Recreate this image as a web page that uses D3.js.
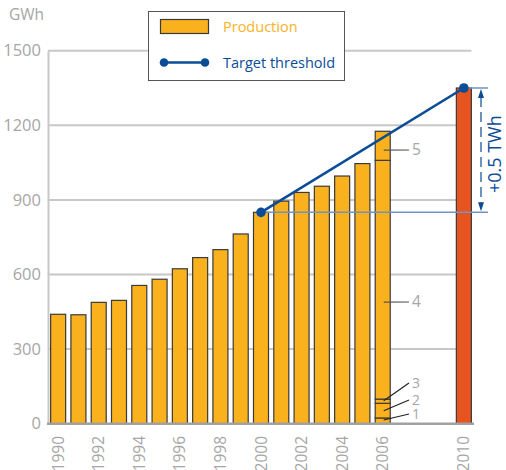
<!DOCTYPE html>
<html>
<head>
<meta charset="utf-8">
<script src="https://cdn.jsdelivr.net/npm/d3@7"></script>
<style>
  body { margin: 0; background: #fff; }
  text { font-family: "Open Sans", "Noto Sans", sans-serif; }
</style>
</head>
<body>
<div id="chart"></div>
<script>

// data (GWh)
var years        = [1990, 1991, 1992, 1993, 1994, 1995, 1996, 1997, 1998, 1999, 2000, 2001, 2002, 2003, 2004, 2005, 2006]
var production   = [440, 438, 488, 496, 556, 581, 623, 668, 700, 763, 850, 895, 930, 955, 996, 1046, 1176]
var seg2006      = [23, 59, 17, 960, 117]      // sources 1..5 stacked in 2006
var segLabels    = ["1", "2", "3", "4", "5"]
var targetYears  = [2000, 2010]
var targetValues = [850, 1350]
var yTicks       = [0, 300, 600, 900, 1200, 1500]
var xTickLabels  = [1990, 1992, 1994, 1996, 1998, 2000, 2002, 2004, 2006, 2010]

var allYears = d3.range(1990, 2011)

var W = 506, H = 470
var svg = d3.select("#chart").append("svg").attr("width", W).attr("height", H)

var x = d3.scaleBand().domain(allYears).range([48, 474]).paddingInner(0.26).paddingOuter(0.13)
var y = d3.scaleLinear().domain([0, 1500]).range([423.7, 50.7])

var grey = "#a6a6a6", blue = "#0b4c97", orange = "#f9b21e", red = "#e85420"

// gridlines
svg.append("g").selectAll("line").data(yTicks.slice(1)).enter().append("line")
  .attr("x1", 48).attr("x2", x(2010) + x.bandwidth())
  .attr("y1", function(d) { return y(d) }).attr("y2", function(d) { return y(d) })
  .attr("stroke", "#c8c8c8").attr("stroke-width", 2)

// y axis
var yAxis = svg.append("g").attr("transform", "translate(48,0)")
  .call(d3.axisLeft(y).tickValues(yTicks).tickFormat(d3.format("d")).tickSize(0).tickPadding(7))
yAxis.select(".domain").attr("stroke", "#c8c8c8").attr("stroke-width", 2)
yAxis.selectAll("text").attr("fill", grey).attr("font-size", 16.5).attr("font-family", "Open Sans")

svg.append("text").attr("x", 9).attr("y", 20).attr("fill", grey).attr("font-size", 15.5).text("GWh")

// production bars (2006 is stacked)
svg.append("g").selectAll("rect").data(years.slice(0, -1)).enter().append("rect")
  .attr("x", function(d) { return x(d) })
  .attr("width", x.bandwidth())
  .attr("y", function(d, i) { return y(production[i]) })
  .attr("height", function(d, i) { return y(0) - y(production[i]) })
  .attr("fill", orange).attr("stroke", "#3a3a3a").attr("stroke-width", 1.2)

var stack = []
var acc = 0
seg2006.forEach(function(v, i) { stack.push({lo: acc, hi: acc + v, label: segLabels[i]}); acc += v })

svg.append("g").selectAll("rect").data(stack).enter().append("rect")
  .attr("x", x(2006)).attr("width", x.bandwidth())
  .attr("y", function(d) { return y(d.hi) })
  .attr("height", function(d) { return y(d.lo) - y(d.hi) })
  .attr("fill", orange).attr("stroke", "#3a3a3a").attr("stroke-width", 1.2)

// 2010 target bar
svg.append("rect")
  .attr("x", x(2010)).attr("width", x.bandwidth())
  .attr("y", y(targetValues[1])).attr("height", y(0) - y(targetValues[1]))
  .attr("fill", red).attr("stroke", "#3a3a3a").attr("stroke-width", 1.2)

// baseline
svg.append("line").attr("x1", 47).attr("x2", 474).attr("y1", y(0)).attr("y2", y(0))
  .attr("stroke", "#a0a0a0").attr("stroke-width", 2.5)

// x labels
svg.append("g").selectAll("text").data(xTickLabels).enter().append("text")
  .attr("transform", function(d) { return "translate(" + (x(d) + x.bandwidth() / 2 + 5.5) + "," + 436 + ") rotate(-90)" })
  .attr("text-anchor", "end").attr("fill", grey).attr("font-size", 15.5)
  .text(function(d) { return d })

// segment labels and leaders for 2006
var leaderFrom = [15, 52, 92, 489, 1100]        // value where each leader leaves the bar
var labelY     = [414, 400, 383, 302, 150]      // pixel row of each label
var cx = x(2006) + x.bandwidth() / 2 + 1
stack.forEach(function(d, i) {
  svg.append("line")
    .attr("x1", cx).attr("y1", y(leaderFrom[i]))
    .attr("x2", 409).attr("y2", labelY[i])
    .attr("stroke", i < 3 ? "#222" : "#555").attr("stroke-width", 1.2)
  svg.append("text").attr("x", 412).attr("y", labelY[i]).attr("dy", "0.34em")
    .attr("fill", grey).attr("font-size", i < 3 ? 14 : 15.5).text(d.label)
})

// target threshold
var tx = function(d) { return x(d) + x.bandwidth() / 2 }
svg.append("line").attr("x1", tx(2000)).attr("x2", 488).attr("y1", y(targetValues[0])).attr("y2", y(targetValues[0]))
  .attr("stroke", "#6f93c4").attr("stroke-width", 1.5)
svg.append("line").attr("x1", tx(2010)).attr("x2", 488).attr("y1", y(targetValues[1])).attr("y2", y(targetValues[1]))
  .attr("stroke", "#6f93c4").attr("stroke-width", 1.5)

svg.append("line")
  .attr("x1", tx(targetYears[0])).attr("y1", y(targetValues[0]))
  .attr("x2", tx(targetYears[1])).attr("y2", y(targetValues[1]))
  .attr("stroke", blue).attr("stroke-width", 2.6)
svg.append("g").selectAll("circle").data(targetYears).enter().append("circle")
  .attr("cx", function(d) { return tx(d) }).attr("cy", function(d, i) { return y(targetValues[i]) })
  .attr("r", 4.8).attr("fill", blue)

// +0.5 TWh arrow
var ax = 481
var yTop = y(targetValues[1]) + 1, yBot = y(targetValues[0]) - 1
svg.append("line").attr("x1", ax).attr("x2", ax).attr("y1", yTop + 8).attr("y2", yBot - 8)
  .attr("stroke", blue).attr("stroke-width", 1.2).attr("stroke-dasharray", "10,5")
svg.append("path").attr("d", "M" + ax + "," + yTop + "l-3,9h6z").attr("fill", blue)
svg.append("path").attr("d", "M" + ax + "," + yBot + "l-3,-9h6z").attr("fill", blue)
svg.append("text")
  .attr("transform", "translate(501," + ((yTop + yBot) / 2 + 4) + ") rotate(-90)")
  .attr("text-anchor", "middle").attr("fill", blue).attr("font-size", 18)
  .text("+0.5 TWh")

// legend
var lg = svg.append("g")
lg.append("rect").attr("x", 148.5).attr("y", 11.5).attr("width", 196).attr("height", 69)
  .attr("fill", "#fff").attr("stroke", "#555").attr("stroke-width", 1)
lg.append("rect").attr("x", 160.5).attr("y", 19.5).attr("width", 48).attr("height", 14)
  .attr("fill", orange).attr("stroke", "#3a3a3a").attr("stroke-width", 1.2)
lg.append("text").attr("x", 223).attr("y", 32).attr("fill", orange).attr("font-size", 14.5).text("Production")
lg.append("line").attr("x1", 164).attr("x2", 205).attr("y1", 62.5).attr("y2", 62.5)
  .attr("stroke", blue).attr("stroke-width", 2.6)
lg.selectAll("circle").data([164, 205]).enter().append("circle")
  .attr("cx", function(d) { return d }).attr("cy", 62.5).attr("r", 4.3).attr("fill", blue)
lg.append("text").attr("x", 223).attr("y", 67.5).attr("fill", blue).attr("font-size", 14.5).text("Target threshold")

</script>
</body>
</html>
